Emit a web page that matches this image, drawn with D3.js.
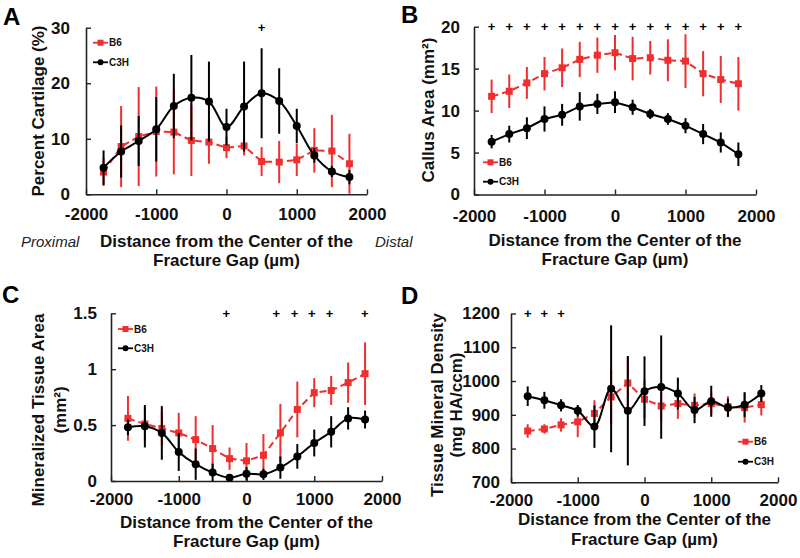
<!DOCTYPE html>
<html>
<head>
<meta charset="utf-8">
<script src="https://cdn.jsdelivr.net/npm/d3@7"></script>
<style>
  body { margin: 0; background: #fff; }
  svg { font-family: "Liberation Sans", Arial, sans-serif; }
</style>
</head>
<body>
<script>
'use strict';

// distance from the centre of the fracture gap (um)
const distances = [-1750, -1500, -1250, -1000, -750, -500, -250, 0, 250, 500, 750, 1000, 1250, 1500, 1750];

// A - percent cartilage
const cartB6     = [4.0, 8.6, 10.4, 11.3, 11.2, 9.7, 9.4, 8.4, 8.7, 5.9, 5.8, 6.2, 7.9, 7.8, 5.5];
const cartB6Err  = [2.5, 7.3, 8.9, 8.1, 7.6, 6.4, 3.9, 1.9, 1.7, 2.6, 3.8, 2.9, 4.0, 6.5, 5.4];
const cartC3H    = [4.8, 7.7, 9.6, 11.7, 15.9, 17.4, 16.7, 12.1, 15.8, 18.2, 16.8, 12.3, 7.0, 4.1, 3.1];
const cartC3HErr = [3.1, 4.7, 4.5, 5.8, 5.8, 7.7, 7.2, 3.3, 8.1, 8.1, 5.9, 3.1, 1.3, 1.0, 1.3];
const cartSig    = [500];

// B - callus area
const areaB6     = [11.7, 12.3, 13.3, 14.4, 15.1, 16.1, 16.6, 16.9, 16.2, 16.3, 16.0, 15.9, 14.4, 13.7, 13.2];
const areaB6Err  = [2.0, 2.0, 1.9, 2.0, 2.3, 2.1, 2.1, 2.1, 2.6, 2.0, 2.5, 3.2, 2.7, 2.8, 3.2];
const areaC3H    = [6.3, 7.2, 7.9, 9.0, 9.5, 10.5, 10.8, 11.0, 10.4, 9.6, 9.0, 8.2, 7.2, 6.2, 4.8];
const areaC3HErr = [0.8, 1.0, 1.3, 1.5, 1.3, 1.7, 1.2, 1.3, 0.9, 0.6, 0.7, 0.9, 1.2, 1.2, 1.4];
const areaSig    = [-1750, -1500, -1250, -1000, -750, -500, -250, 0, 250, 500, 750, 1000, 1250, 1500, 1750];

// C - mineralized tissue area
const minB6     = [0.56, 0.51, 0.47, 0.43, 0.37, 0.29, 0.20, 0.18, 0.23, 0.43, 0.64, 0.79, 0.81, 0.88, 0.96];
const minB6Err  = [0.20, 0.15, 0.15, 0.18, 0.21, 0.21, 0.10, 0.16, 0.19, 0.26, 0.25, 0.13, 0.13, 0.18, 0.28];
const minC3H    = [0.48, 0.49, 0.43, 0.26, 0.15, 0.075, 0.03, 0.065, 0.06, 0.12, 0.22, 0.34, 0.44, 0.56, 0.55];
const minC3HErr = [0.07, 0.19, 0.24, 0.17, 0.14, 0.08, 0.03, 0.06, 0.05, 0.10, 0.11, 0.12, 0.14, 0.10, 0.08];
const minSig    = [-300, 440, 710, 965, 1225, 1745];

// D - tissue mineral density
const densB6     = [852, 858, 870, 879, 904, 953, 994, 946, 926, 933, 928, 933, 924, 921, 930];
const densB6Err  = [20, 14, 20, 45, 39, 80, 78, 56, 40, 45, 35, 32, 31, 44, 32];
const densC3H    = [955, 943, 928, 912, 865, 977, 912, 970, 982, 963, 914, 940, 921, 930, 963];
const densC3HErr = [29, 25, 18, 17, 63, 188, 162, 103, 153, 47, 39, 46, 27, 37, 25];
const densSig    = [-1750, -1500, -1250];

const xTicks = [-2000, -1000, 0, 1000, 2000];
const RED = "#ee2f2f";

const panels = [
  { letter: "A", lx: 3, ly: 25, left: 86, right: 367, top: 27.7, bottom: 194.3,
    yDomain: [0, 30], yTicks: [0, 10, 20, 30], yPad: 16, xPad: 14,
    b6: cartB6, b6Err: cartB6Err, c3h: cartC3H, c3hErr: cartC3HErr, sig: cartSig, smooth: true,
    yTitle: ["Percent Cartilage (%)"], yTitleX: [44], yTitleY: 111,
    legend: { x: 93, y: [42.7, 62.3] }, xTitleY: [247, 266], side: true },
  { letter: "B", lx: 401, ly: 23, left: 474, right: 756, top: 26.7, bottom: 194.5,
    yDomain: [0, 20], yTicks: [0, 5, 10, 15, 20], yPad: 14, xPad: 15,
    b6: areaB6, b6Err: areaB6Err, c3h: areaC3H, c3hErr: areaC3HErr, sig: areaSig, smooth: false,
    yTitle: ["Callus Area (mm\u00B2)"], yTitleX: [434], yTitleY: 110,
    legend: { x: 483, y: [162.3, 181.7] }, xTitleY: [246, 265] },
  { letter: "C", lx: 2, ly: 303, left: 111, right: 382, top: 313.3, bottom: 481,
    yDomain: [0, 1.5], yTicks: [0, 0.5, 1, 1.5], yPad: 14, xPad: 12,
    b6: minB6, b6Err: minB6Err, c3h: minC3H, c3hErr: minC3HErr, sig: minSig, smooth: true,
    yTitle: ["Mineralized Tissue Area", "(mm\u00B2)"], yTitleX: [44, 66], yTitleY: 410,
    legend: { x: 118, y: [329, 348.3] }, xTitleY: [528, 547] },
  { letter: "D", lx: 401, ly: 304, left: 511, right: 778, top: 313.5, bottom: 482.3,
    yDomain: [700, 1200], yTicks: [700, 800, 900, 1000, 1100, 1200], yPad: 11, xPad: 12,
    b6: densB6, b6Err: densB6Err, c3h: densC3H, c3hErr: densC3HErr, sig: densSig, smooth: true,
    yTitle: ["Tissue Mineral Density", "(mg HA/ccm)"], yTitleX: [443, 462], yTitleY: 405,
    legend: { x: 738, y: [441.7, 461.7] }, xTitleY: [525, 545] }
];

const svg = d3.select("body").append("svg")
  .attr("width", 800)
  .attr("height", 558);

function drawPanel(p) {
  const g = svg.append("g");
  const x = d3.scaleLinear().domain([-2000, 2000]).range([p.left, p.right]);
  const y = d3.scaleLinear().domain(p.yDomain).range([p.bottom, p.top]);

  // axes, ticks pointing inwards
  const xa = g.append("g")
    .attr("transform", "translate(0," + p.bottom + ")")
    .call(d3.axisBottom(x).tickValues(xTicks).tickSizeInner(-5).tickSizeOuter(0).tickPadding(p.xPad)
      .tickFormat(d => String(d)));
  const ya = g.append("g")
    .attr("transform", "translate(" + p.left + ",0)")
    .call(d3.axisLeft(y).tickValues(p.yTicks).tickSizeInner(-5).tickSizeOuter(0).tickPadding(p.yPad)
      .tickFormat(d => String(d)));
  [xa, ya].forEach(a => {
    a.select(".domain").attr("stroke", "#222").attr("stroke-width", 1.6);
    a.selectAll(".tick line").attr("stroke", "#222").attr("stroke-width", 1.4);
    a.selectAll(".tick text").attr("font-size", 17).attr("font-weight", "bold").attr("fill", "#111");
  });

  const series = [
    { vals: p.b6, errs: p.b6Err, color: RED, dash: "7,4", curve: d3.curveLinear, shape: "square" },
    { vals: p.c3h, errs: p.c3hErr, color: "#000", dash: null,
      curve: p.smooth ? d3.curveCatmullRom.alpha(0.5) : d3.curveLinear, shape: "circle" }
  ];

  series.forEach(s => {
    const pts = distances.map((d, i) => ({ d: d, v: s.vals[i], e: s.errs[i] }));
    g.append("g").selectAll("line")
      .data(pts).enter().append("line")
        .attr("x1", d => x(d.d)).attr("x2", d => x(d.d))
        .attr("y1", d => y(d.v - d.e)).attr("y2", d => y(d.v + d.e))
        .attr("stroke", s.color).attr("stroke-width", 2);

    const line = d3.line().x(d => x(d.d)).y(d => y(d.v)).curve(s.curve);
    g.append("path").datum(pts)
      .attr("d", line)
      .attr("fill", "none")
      .attr("stroke", s.color)
      .attr("stroke-width", 2)
      .attr("stroke-dasharray", s.dash);

    if (s.shape === "square") {
      g.append("g").selectAll("rect")
        .data(pts).enter().append("rect")
          .attr("x", d => x(d.d) - 3.5).attr("y", d => y(d.v) - 3.5)
          .attr("width", 7).attr("height", 7)
          .attr("fill", s.color);
    } else {
      g.append("g").selectAll("circle")
        .data(pts).enter().append("circle")
          .attr("cx", d => x(d.d)).attr("cy", d => y(d.v))
          .attr("r", 4)
          .attr("fill", s.color);
    }
  });

  // significance markers
  g.append("g").selectAll("text")
    .data(p.sig).enter().append("text")
      .attr("x", d => x(d)).attr("y", p.top + 4.5)
      .attr("text-anchor", "middle")
      .attr("font-size", 13).attr("font-weight", "bold")
      .text("+");

  // legend
  const leg = g.append("g");
  const legItems = [
    { name: "B6", color: RED, shape: "square" },
    { name: "C3H", color: "#000", shape: "circle" }
  ];
  legItems.forEach((it, i) => {
    const ly = p.legend.y[i];
    leg.append("line")
      .attr("x1", p.legend.x).attr("x2", p.legend.x + 15)
      .attr("y1", ly).attr("y2", ly)
      .attr("stroke", it.color).attr("stroke-width", 1.8);
    if (it.shape === "square") {
      leg.append("rect").attr("x", p.legend.x + 4.5).attr("y", ly - 3)
        .attr("width", 6).attr("height", 6).attr("fill", it.color);
    } else {
      leg.append("circle").attr("cx", p.legend.x + 7.5).attr("cy", ly).attr("r", 3).attr("fill", it.color);
    }
    leg.append("text")
      .attr("x", p.legend.x + 16).attr("y", ly + 3.5)
      .attr("font-size", 10).attr("font-weight", "bold").attr("fill", "#111")
      .text(it.name);
  });

  // titles
  const cx = (p.left + p.right) / 2;
  ["Distance from the Center of the", "Fracture Gap (\u00B5m)"].forEach((t, i) => {
    g.append("text")
      .attr("x", cx).attr("y", p.xTitleY[i])
      .attr("text-anchor", "middle")
      .attr("font-size", 17).attr("font-weight", "bold").attr("fill", "#111")
      .text(t);
  });
  p.yTitle.forEach((t, i) => {
    g.append("text")
      .attr("transform", "translate(" + p.yTitleX[i] + "," + p.yTitleY + ") rotate(-90)")
      .attr("text-anchor", "middle")
      .attr("font-size", 17).attr("font-weight", "bold").attr("fill", "#111")
      .text(t);
  });
  g.append("text")
    .attr("x", p.lx).attr("y", p.ly)
    .attr("font-size", 24).attr("font-weight", "bold")
    .text(p.letter);

  if (p.side) {
    g.append("text").attr("x", 21).attr("y", p.xTitleY[0])
      .attr("font-size", 15).attr("font-style", "italic").attr("fill", "#222")
      .text("Proximal");
    g.append("text").attr("x", 375).attr("y", p.xTitleY[0])
      .attr("font-size", 15).attr("font-style", "italic").attr("fill", "#222")
      .text("Distal");
  }
}

panels.forEach(drawPanel);
</script>
</body>
</html>
